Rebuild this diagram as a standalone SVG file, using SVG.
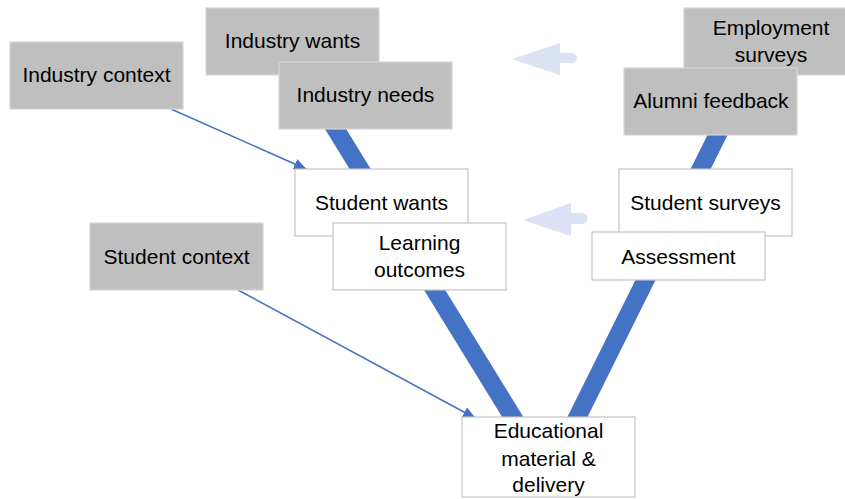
<svg xmlns="http://www.w3.org/2000/svg" width="845" height="499" viewBox="0 0 845 499">
<defs>
<style>
.g{fill:#BFBFBF;stroke:#D6D6D6;stroke-width:1.2}
.w{fill:#FFFFFF;stroke:#C4C4C4;stroke-width:1.2}
text{font-family:"Liberation Sans",Arial,sans-serif;font-size:21px;fill:#000;text-anchor:middle}
.thick{stroke:#4472C4;stroke-width:18;fill:none}
.thin{stroke:#4472C4;stroke-width:1.5;fill:none}
.big{fill:#DAE2F4}
</style>
<marker id="ah" markerWidth="13" markerHeight="11" refX="12" refY="5.5" orient="auto" markerUnits="userSpaceOnUse">
<path d="M0,0 L13,5.5 L0,11 Z" fill="#4472C4"/>
</marker>
</defs>
<g id="connectors">
<line class="thick" x1="330" y1="120" x2="522" y2="432"/>
<line class="thick" x1="722" y1="126" x2="570" y2="432"/>
<line class="thin" x1="171" y1="109" x2="306" y2="169" marker-end="url(#ah)"/>
<line class="thin" x1="238" y1="290" x2="475" y2="418" marker-end="url(#ah)"/>
<path class="big" d="M512,59 L560,43 L560,53 L572,53 A5,5 0 0 1 572,63 L560,63 L560,75 Z"/>
<path class="big" d="M523,220 L571,203 L571,213 L582,213 A5.5,5.5 0 0 1 582,224 L571,224 L571,236 Z"/>
</g>
<g id="industry-wants"><rect class="g" x="206" y="8" width="173" height="67"/><text x="292.5" y="48">Industry wants</text></g>
<g id="industry-context"><rect class="g" x="10" y="42" width="173" height="67"/><text x="96.5" y="82">Industry context</text></g>
<g id="industry-needs"><rect class="g" x="279" y="62" width="173" height="67"/><text x="365.5" y="102">Industry needs</text></g>
<g id="employment-surveys"><rect class="g" x="684" y="8" width="173" height="67"/><text x="771" y="35">Employment</text><text x="771" y="62">surveys</text></g>
<g id="alumni-feedback"><rect class="g" x="624" y="68" width="173" height="67"/><text x="711" y="108">Alumni feedback</text></g>
<g id="student-wants"><rect class="w" x="295" y="169" width="173" height="67"/><text x="381.5" y="210">Student wants</text></g>
<g id="learning-outcomes"><rect class="w" x="333" y="223" width="173" height="67"/><text x="419.5" y="250">Learning</text><text x="419.5" y="277">outcomes</text></g>
<g id="student-context"><rect class="g" x="90" y="223" width="173" height="67"/><text x="176.5" y="264">Student context</text></g>
<g id="student-surveys"><rect class="w" x="619" y="169" width="173" height="67"/><text x="705.5" y="210">Student surveys</text></g>
<g id="assessment"><rect class="w" x="592" y="232" width="173" height="48"/><text x="678.5" y="264">Assessment</text></g>
<g id="educational"><rect class="w" x="462" y="417" width="173" height="80"/><text x="548.5" y="438">Educational</text><text x="548.5" y="466">material &amp;</text><text x="548.5" y="492">delivery</text></g>
</svg>
